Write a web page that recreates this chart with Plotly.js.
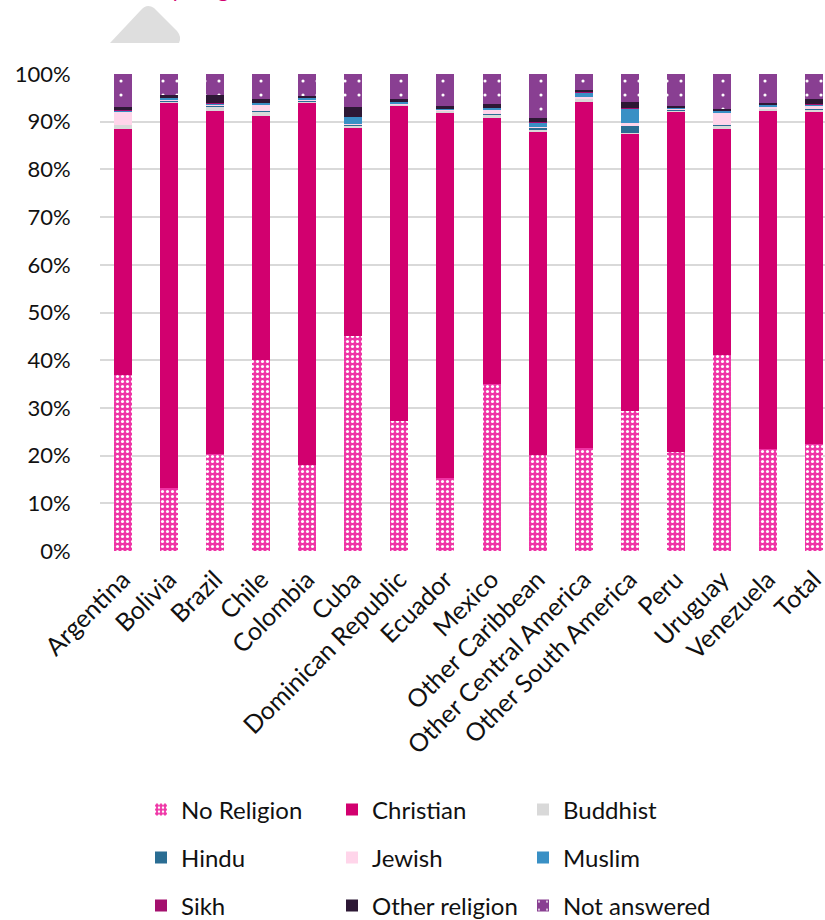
<!DOCTYPE html>
<html>
<head>
<meta charset="utf-8">
<script src="https://cdn.plot.ly/plotly-3.0.1.min.js"></script>
<style>html,body{margin:0;padding:0;background:#fff;}#chart{width:825px;height:920px;}</style>
</head>
<body>
<div id="chart"></div>
<script>
const categories = ["Argentina","Bolivia","Brazil","Chile","Colombia","Cuba","Dominican Republic","Ecuador","Mexico","Other Caribbean","Other Central America","Other South America","Peru","Uruguay","Venezuela","Total"];
const noReligion = [37.0,13.3,20.3,40.0,18.0,45.0,27.3,15.3,35.0,20.1,21.6,29.4,20.8,41.1,21.4,22.4];
const christian = [51.5,80.6,72.0,51.1,75.9,43.7,66.0,76.6,55.8,67.8,72.6,58.0,71.2,47.4,70.9,69.6];
const buddhist = [0.8,0.3,0.8,1.0,0.3,0.5,0.2,0.3,0.7,0.3,0.5,0.3,0.3,0.7,0.3,0.4];
const hindu = [0.1,0.1,0.1,0.1,0.1,0.1,0.1,0.1,0.1,0.5,0.1,1.5,0.1,0.1,0.1,0.2];
const jewish = [2.6,0.2,0.4,1.4,0.2,0.2,0.1,0.1,0.9,0.2,0.3,0.5,0.2,2.6,0.3,0.6];
const muslim = [0.3,0.5,0.2,0.3,0.4,1.5,0.4,0.3,0.3,0.9,1.0,3.0,0.3,0.4,0.4,0.4];
const sikh = [0.1,0.0,0.1,0.1,0.0,0.0,0.0,0.0,0.1,0.1,0.1,0.1,0.0,0.0,0.0,0.1];
const otherReligion = [0.6,0.5,1.7,0.8,0.5,2.1,0.7,0.5,0.9,0.8,0.4,1.3,0.4,0.3,0.6,1.1];
const notAnswered = [7.0,4.5,4.4,5.2,4.6,6.9,5.2,6.8,6.2,9.3,3.4,5.9,6.7,7.4,6.0,5.2];
const yTicks = [0,10,20,30,40,50,60,70,80,90,100];
const titleText = "Latin American-born residents, by religion in 2021,";

const W = 825, H = 920, ML = 100, MR = 0, MT = 74, MB = 369;
const PW = W - ML - MR, PH = H - MT - MB;
const px = x => (x - ML) / PW;
const py = y => (H - MB - y) / PH;

const FONT = "Lato, 'Noto Sans', sans-serif";

function mk(name, y, color, legend, pattern) {
  const t = {
    type: 'bar', name: name, x: categories, y: y,
    marker: {color: color, line: {width: 0}},
    legend: legend,
    hoverinfo: 'name+y'
  };
  if (pattern) t.marker.pattern = pattern;
  return t;
}

const traces = [
  mk('No Religion', noReligion, '#EF35A6', 'legend', {shape: '.', bgcolor: '#EF35A6', fgcolor: '#FFFFFF', size: 5, solidity: 0.3, fillmode: 'replace'}),
  mk('Christian', christian, '#D2006F', 'legend'),
  mk('Buddhist', buddhist, '#D9D9D9', 'legend'),
  mk('Hindu', hindu, '#2A6D93', 'legend2'),
  mk('Jewish', jewish, '#FFD5EA', 'legend2'),
  mk('Muslim', muslim, '#3990C5', 'legend2'),
  mk('Sikh', sikh, '#A4106E', 'legend3'),
  mk('Other religion', otherReligion, '#2D1835', 'legend3'),
  mk('Not answered', notAnswered, '#893F92', 'legend3', {shape: '.', bgcolor: '#893F92', fgcolor: '#FFFFFF', size: 14, solidity: 0.04, fillmode: 'replace'})
];

function legendAt(yPix) {
  return {
    orientation: 'h', xref: 'container', yref: 'container',
    x: 141 / W, xanchor: 'left', y: 1 - yPix / H, yanchor: 'middle',
    entrywidth: 146, entrywidthmode: 'pixels',
    font: {family: FONT, size: 24, color: '#111'},
    bgcolor: 'rgba(0,0,0,0)', traceorder: 'normal', itemclick: false
  };
}

const shapePath = 'M' + px(110) + ',' + py(43) +
  ' L' + px(141) + ',' + py(10) +
  ' Q' + px(147) + ',' + py(3) + ' ' + px(154) + ',' + py(8) +
  ' L' + px(177) + ',' + py(31) +
  ' Q' + px(182) + ',' + py(37) + ' ' + px(179) + ',' + py(43) + ' Z';

const layout = {
  width: W, height: H,
  margin: {l: ML, r: MR, t: MT, b: MB, pad: 0},
  barmode: 'stack', bargap: 0.61,
  paper_bgcolor: '#FFFFFF', plot_bgcolor: '#FFFFFF',
  font: {family: FONT, size: 20, color: '#111'},
  showlegend: true,
  legend: legendAt(810),
  legend2: legendAt(858),
  legend3: legendAt(906),
  xaxis: {
    type: 'category', range: [-0.5, 15.24],
    tickangle: -45, ticks: 'outside', ticklen: 3, tickcolor: 'rgba(0,0,0,0)',
    tickfont: {family: FONT, size: 25, color: '#111'},
    showgrid: false, zeroline: false, showline: false, automargin: false
  },
  yaxis: {
    range: [0, 100], tickvals: yTicks, ticktext: yTicks.map(v => v + '%'),
    ticks: 'outside', ticklen: 24, tickcolor: 'rgba(0,0,0,0)',
    tickfont: {family: FONT, size: 22, color: '#111'},
    showgrid: true, gridcolor: '#D9D9D9', gridwidth: 2,
    zeroline: false, showline: false, automargin: false
  },
  shapes: [{
    type: 'path', xref: 'paper', yref: 'paper', path: shapePath,
    fillcolor: '#DEDEDE', line: {width: 0}, layer: 'above'
  }],
  annotations: [{
    xref: 'paper', yref: 'paper', x: px(346), y: py(-11.5), xanchor: 'right', yanchor: 'middle',
    text: titleText, showarrow: false,
    font: {family: FONT, size: 22, color: '#D2006F'}
  }]
};

Plotly.newPlot('chart', traces, layout, {displayModeBar: false, staticPlot: true});
</script>
</body>
</html>
